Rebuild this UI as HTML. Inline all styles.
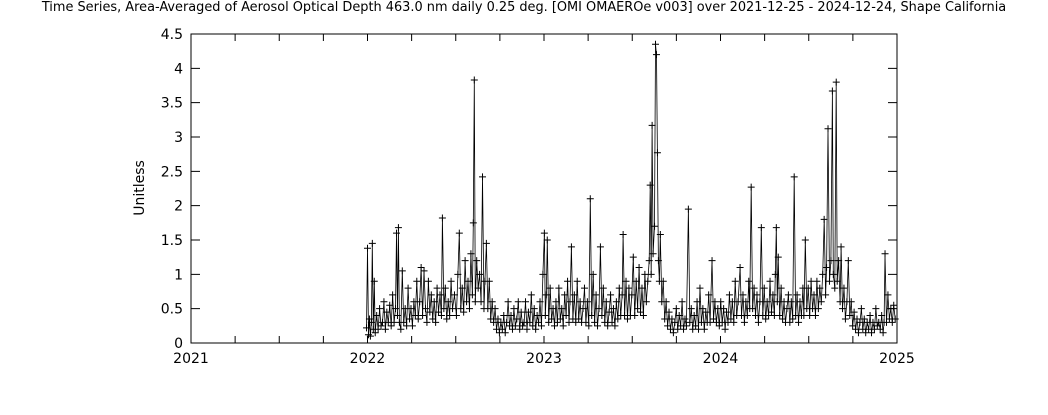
<!DOCTYPE html>
<html><head><meta charset="utf-8"><style>
body{margin:0;background:#fff;}
svg{display:block;font-family:"DejaVu Sans","Liberation Sans",sans-serif;}
</style></head><body>
<svg id="chart" width="1048" height="415" viewBox="0 0 1048 415">
<text x="524" y="11" text-anchor="middle" font-size="12.9">Time Series, Area-Averaged of Aerosol Optical Depth 463.0 nm daily 0.25 deg. [OMI OMAEROe v003] over 2021-12-25 - 2024-12-24, Shape California</text>
<text transform="translate(144,188) rotate(-90)" text-anchor="middle" font-size="14">Unitless</text>
<g id="axes"></g>
<g id="series"></g>
<rect x="191" y="34" width="706" height="309" fill="none" stroke="#000" stroke-width="1"/>
</svg>
<script>
const yTicks=[0,0.5,1,1.5,2,2.5,3,3.5,4,4.5];
const yTickLabels=["0","0.5","1","1.5","2","2.5","3","3.5","4","4.5"];
const xYears=[2021,2022,2023,2024,2025];
const xYearLabels=["2021","2022","2023","2024","2025"];
// [days since 2022-01-01, AOD]
const points2022=[[-2,0.22],[0,1.38],[2,0.12],[4,0.35],[6,0.1],[8,0.3],[10,1.45],[12,0.2],[14,0.9],[16,0.15],[19,0.4],[22,0.2],[25,0.5],[28,0.25],[31,0.3],[34,0.6],[37,0.2],[40,0.45],[43,0.3],[46,0.55],[49,0.25],[52,0.7],[55,0.3],[58,0.5],[60,1.6],[62,0.4],[64,1.68],[66,0.3],[69,0.2],[72,1.05],[75,0.3],[78,0.5],[81,0.25],[84,0.8],[87,0.35],[90,0.5],[93,0.25],[96,0.6],[99,0.4],[102,0.9],[105,0.35],[108,0.6],[111,1.1],[114,0.4],[117,1.05],[120,0.5],[123,0.3],[126,0.9],[129,0.45],[132,0.7],[135,0.35],[138,0.6],[141,0.3],[144,0.8],[147,0.45],[150,0.7],[153,0.4],[155,1.82],[158,0.5],[161,0.8],[164,0.35],[167,0.6],[170,0.4],[173,0.9],[176,0.5],[180,0.7],[184,0.4],[187,1.0],[190,1.6],[193,0.5],[196,0.8],[199,0.45],[202,1.2],[205,0.6],[208,0.9],[211,0.5],[214,1.3],[217,0.7],[219,1.75],[221,3.83],[223,0.6],[226,1.2],[229,0.8],[232,1.0],[235,0.6],[238,2.42],[241,0.5],[243,0.9],[246,1.45],[249,0.5],[252,0.9],[255,0.35],[258,0.6],[261,0.3],[264,0.5],[267,0.2],[270,0.35],[273,0.15],[276,0.3],[279,0.2],[282,0.4],[285,0.15],[288,0.3],[291,0.6],[294,0.25],[297,0.4],[300,0.2],[303,0.5],[306,0.25],[309,0.35],[312,0.6],[315,0.2],[318,0.45],[321,0.25],[324,0.3],[327,0.6],[330,0.2],[333,0.45],[336,0.3],[339,0.7],[342,0.25],[345,0.5],[348,0.2],[351,0.4],[354,0.3],[357,0.6],[360,0.25],[363,1.0]];
const points2023=[[366,1.6],[368,0.4],[370,0.7],[372,1.5],[375,0.3],[378,0.8],[381,0.35],[384,0.5],[387,0.25],[390,0.6],[393,0.3],[396,0.8],[399,0.35],[402,0.5],[405,0.25],[408,0.7],[411,0.4],[414,0.9],[417,0.3],[419,0.6],[422,1.4],[425,0.35],[428,0.7],[431,0.3],[434,0.9],[437,0.35],[440,0.6],[443,0.3],[446,0.5],[449,0.8],[452,0.3],[455,0.6],[458,0.25],[461,2.1],[464,0.4],[467,1.0],[470,0.3],[473,0.7],[476,0.25],[479,0.5],[482,1.4],[485,0.4],[488,0.8],[491,0.3],[494,0.6],[497,0.25],[500,0.45],[503,0.7],[506,0.3],[509,0.5],[512,0.25],[515,0.6],[518,0.35],[521,0.8],[524,0.4],[527,0.7],[529,1.58],[532,0.4],[535,0.9],[538,0.35],[541,0.8],[544,0.4],[547,0.7],[550,1.25],[553,0.4],[556,0.9],[559,0.5],[562,1.1],[565,0.45],[568,0.8],[571,0.4],[574,1.0],[577,0.6],[580,0.9],[583,1.2],[585,2.3],[587,1.0],[589,3.17],[591,1.3],[594,1.7],[596,4.35],[598,4.2],[600,2.77],[602,1.2],[604,0.9],[606,1.58],[609,0.6],[612,0.9],[615,0.35],[618,0.6],[621,0.25],[624,0.45],[627,0.2],[630,0.35],[633,0.15],[636,0.3],[639,0.5],[642,0.2],[645,0.4],[648,0.25],[651,0.6],[654,0.2],[657,0.35],[660,0.25],[664,1.95],[667,0.3],[670,0.5],[673,0.2],[676,0.4],[679,0.25],[682,0.6],[685,0.2],[688,0.8],[691,0.3],[694,0.5],[697,0.2],[700,0.45],[703,0.3],[706,0.7],[709,0.3],[713,1.2],[716,0.35],[719,0.6],[722,0.3],[725,0.5],[728,0.25]];
const points2024=[[731,0.6],[734,0.3],[737,0.5],[740,0.2],[743,0.45],[746,0.3],[749,0.7],[752,0.35],[755,0.6],[758,0.3],[761,0.9],[764,0.4],[767,0.6],[771,1.1],[774,0.4],[777,0.7],[780,0.3],[783,0.6],[786,0.4],[789,0.9],[791,0.5],[794,2.27],[797,0.5],[800,0.8],[803,0.4],[806,0.7],[809,0.3],[812,0.6],[815,1.68],[818,0.4],[821,0.8],[824,0.35],[827,0.6],[830,0.4],[833,0.9],[836,0.45],[839,0.7],[842,0.4],[844,1.0],[846,1.68],[848,0.6],[850,1.25],[853,0.4],[856,0.8],[859,0.35],[862,0.6],[865,0.3],[868,0.5],[871,0.7],[874,0.3],[877,0.6],[880,0.35],[883,2.42],[886,0.4],[889,0.7],[892,0.3],[895,0.6],[898,0.4],[901,0.8],[903,0.4],[906,1.5],[909,0.5],[912,0.8],[915,0.4],[918,0.9],[921,0.5],[924,0.7],[927,0.4],[930,0.9],[933,0.5],[936,0.8],[939,0.6],[942,1.0],[945,1.8],[948,0.7],[950,1.1],[953,3.12],[956,0.9],[959,1.2],[962,3.67],[964,1.0],[967,0.8],[970,3.8],[972,0.9],[975,1.2],[978,0.6],[980,1.4],[983,0.5],[986,0.8],[989,0.35],[992,0.6],[995,1.2],[998,0.4],[1001,0.6],[1004,0.25],[1007,0.45],[1010,0.2],[1013,0.35],[1016,0.15],[1019,0.3],[1022,0.5],[1025,0.2],[1028,0.35],[1031,0.15],[1034,0.3],[1037,0.2],[1040,0.4],[1043,0.15],[1046,0.3],[1049,0.2],[1052,0.5],[1055,0.25],[1058,0.3],[1061,0.2],[1064,0.4],[1067,0.15],[1069,0.3],[1071,1.3],[1074,0.3],[1077,0.7],[1080,0.35],[1083,0.5],[1086,0.3],[1089,0.55],[1092,0.35]];
const X0=191,X1=897,Y0=343,Y1=34;
const xScale=y=>X0+(y-2021)/4*(X1-X0);
const xDay=d=>xScale(2022+d/365.25);
const yScale=v=>Y0-(v/4.5)*(Y0-Y1);
const NS="http://www.w3.org/2000/svg";
const axes=document.getElementById('axes'),ser=document.getElementById('series');
function mk(tag,attrs,parent){const e=document.createElementNS(NS,tag);for(const k in attrs)e.setAttribute(k,attrs[k]);parent.appendChild(e);return e;}
yTicks.forEach((v,i)=>{const y=yScale(v);
 const t=mk('path',{d:`M${X0} ${y}h9M${X1} ${y}h-9`,stroke:'#000'},axes);
 
 
 const l=mk('text',{x:X0-8,y:y+5,'text-anchor':'end','font-size':'14'},axes);l.textContent=yTickLabels[i];
 
 
});
for(let q=0;q<=16;q++){const x=X0+q/16*(X1-X0);
 const t=mk('path',{d:`M${x} ${Y0}v-7M${x} ${Y1}v7`,stroke:'#000'},axes);
 
 
}
xYears.forEach((yr,i)=>{const l=mk('text',{x:xScale(yr),y:Y0+20,'text-anchor':'middle','font-size':'14'},axes);l.textContent=xYearLabels[i];
 
 
});
const pts=points2022.concat(points2023,points2024);
let d='';pts.forEach((p,i)=>{d+=(i?'L':'M')+xDay(p[0]).toFixed(1)+' '+yScale(p[1]).toFixed(1);});
const line=mk('path',{d:d,fill:'none',stroke:'#000','stroke-width':'0.8'},ser);


let m='';pts.forEach(p=>{const x=xDay(p[0]),y=yScale(p[1]);m+=`M${x-3.5} ${y}h7M${x} ${y-3.5}v7`;});
const mp=mk('path',{d:m,stroke:'#000','stroke-width':'1'},ser);


</script>
</body></html>
